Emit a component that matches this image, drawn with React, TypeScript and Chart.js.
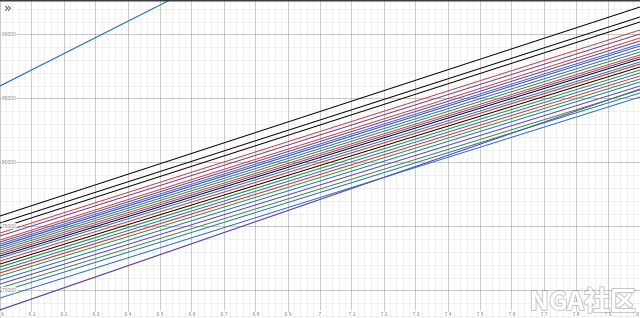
import React, { useEffect, useRef } from 'react';
import { Chart, registerables } from 'chart.js';

Chart.register(...registerables);

// Axis window (Desmos-style view)
const X_MIN = 6;
const X_MAX = 8;
const Y_MIN = 67890;
const Y_MAX = 92734;

// Labelled (major) tick values
const xTickValues = [6, 6.1, 6.2, 6.3, 6.4, 6.5, 6.6, 6.7, 6.8, 6.9, 7, 7.1, 7.2, 7.3, 7.4, 7.5, 7.6, 7.7, 7.8, 7.9, 8];
const yTickValues = [70000, 75000, 80000, 85000, 90000];
// Minor grid steps
const xMinorStep = 0.02;
const yMinorStep = 1000;

// Each line runs from x = 6 to x = 8
const lineStartX = 6;
const lineEndX = 8;

// y value of each line at x = 6
const startValues = [
  86020, 75860, 75310, 74920, 74530, 74300, 73980, 73830, 73670, 73520,
  73360, 73200, 73050, 72890, 72730, 72580, 72340, 72110, 71880, 71640,
  71410, 71170, 70860, 70550, 70230, 69920, 69450, 68520,
];

// y value of each line at x = 8
const endValues = [
  111300, 92190, 91410, 91020, 90390, 90080, 89770, 89530, 89300, 89140,
  88910, 88670, 88440, 88280, 88130, 87890, 87730, 87500, 87270, 87030,
  86800, 86560, 86330, 86020, 85700, 85470, 85160, 85780,
];

// colour name of each line
const lineColorNames = [
  'blue', 'black', 'black', 'black', 'red', 'purple', 'red', 'purple', 'blue', 'purple',
  'blue', 'green', 'red', 'purple', 'black', 'blue', 'red', 'black', 'green', 'blue',
  'red', 'green', 'blue', 'purple', 'green', 'blue', 'blue', 'purple',
];

const palette: Record<string, string> = {
  red: '#c74440',
  blue: '#2d70b3',
  green: '#388c46',
  purple: '#6042a6',
  black: '#000000',
};

const fmtX = (v: number) => String(Number(v.toFixed(1)));

const stepTicks = (min: number, max: number, step: number) => {
  const out: { value: number }[] = [];
  const first = Math.ceil(min / step - 1e-9);
  const last = Math.floor(max / step + 1e-9);
  for (let k = first; k <= last; k++) out.push({ value: Math.round(k * step * 1000) / 1000 });
  return out;
};

const overlayPlugin = {
  id: 'desmosOverlay',
  afterDatasetsDraw(chart: any) {
    const ctx = chart.ctx as CanvasRenderingContext2D;
    const xs = chart.scales.x;
    const ys = chart.scales.y;
    const W = chart.width;
    const H = chart.height;
    ctx.save();
    ctx.font = '5px "Liberation Sans", Arial, sans-serif';
    ctx.textBaseline = 'middle';
    ctx.lineJoin = 'round';
    ctx.lineWidth = 2.5;
    ctx.strokeStyle = 'rgba(255,255,255,0.95)';
    ctx.fillStyle = '#8c8c8c';

    ys.ticks.forEach((t: any) => {
      const py = ys.getPixelForValue(t.value);
      const txt = String(t.value);
      ctx.textAlign = 'left';
      ctx.strokeText(txt, 2, py);
      ctx.fillText(txt, 2, py);
    });

    xs.ticks.forEach((t: any) => {
      const px = xs.getPixelForValue(t.value);
      const txt = fmtX(t.value);
      const w = ctx.measureText(txt).width;
      const cx = Math.min(Math.max(px, 1 + w / 2), W - 1 - w / 2);
      ctx.textAlign = 'center';
      ctx.strokeText(txt, cx, H - 3.5);
      ctx.fillText(txt, cx, H - 3.5);
    });

    // top border
    ctx.fillStyle = '#3c3c3c';
    ctx.fillRect(0, 0, W, 1.5);

    // expand icon
    ctx.font = '13px "DejaVu Sans", sans-serif';
    ctx.fillStyle = '#555555';
    ctx.textAlign = 'left';
    ctx.textBaseline = 'middle';
    ctx.fillText('\u00bb', 4, 9);

    // watermark
    ctx.font = 'bold 26px "Noto Sans CJK SC", "Noto Sans", sans-serif';
    ctx.textAlign = 'right';
    ctx.textBaseline = 'alphabetic';
    ctx.lineWidth = 2;
    ctx.strokeStyle = 'rgba(120,120,120,0.4)';
    ctx.strokeText('NGA社区', W - 4, H - 8);
    ctx.fillStyle = 'rgba(255,255,255,0.97)';
    ctx.fillText('NGA社区', W - 4, H - 8);
    ctx.restore();
  },
};

export default function App() {
  const canvasRef = useRef<HTMLCanvasElement | null>(null);

  useEffect(() => {
    if (!canvasRef.current) return;
    const datasets = startValues.map((s, i) => ({
      label: 'line ' + (i + 1),
      data: [
        { x: lineStartX, y: s },
        { x: lineEndX, y: endValues[i] },
      ],
      showLine: true,
      borderColor: palette[lineColorNames[i]],
      backgroundColor: palette[lineColorNames[i]],
      borderWidth: 1.1,
      pointRadius: 0,
      fill: false,
      xAxisID: 'x',
      yAxisID: 'y',
    }));

    const common = (pos: string, min: number, max: number, color: string, ticksFn: () => { value: number }[]) => ({
      type: 'linear',
      position: pos,
      min,
      max,
      ticks: { display: false },
      grid: { color, lineWidth: 1, drawTicks: false },
      border: { display: false },
      afterBuildTicks: (axis: any) => {
        axis.ticks = ticksFn();
      },
    });

    const chart = new Chart(canvasRef.current, {
      type: 'scatter',
      data: { datasets },
      plugins: [overlayPlugin],
      options: {
        animation: false,
        responsive: false,
        maintainAspectRatio: false,
        devicePixelRatio: 1,
        layout: { padding: 0 },
        plugins: { legend: { display: false }, tooltip: { enabled: false } },
        scales: {
          xMinor: common('bottom', X_MIN, X_MAX, 'rgba(0,0,0,0.055)', () => stepTicks(X_MIN, X_MAX, xMinorStep)),
          yMinor: common('left', Y_MIN, Y_MAX, 'rgba(0,0,0,0.055)', () => stepTicks(Y_MIN, Y_MAX, yMinorStep)),
          x: common('bottom', X_MIN, X_MAX, 'rgba(0,0,0,0.16)', () => xTickValues.map((v) => ({ value: v }))),
          y: common('left', Y_MIN, Y_MAX, 'rgba(0,0,0,0.16)', () => yTickValues.map((v) => ({ value: v }))),
        },
      },
    } as any);
    return () => chart.destroy();
  }, []);

  return (
    <div style={{ position: 'fixed', left: 0, top: 0, width: 640, height: 318, background: '#fff' }}>
      <canvas ref={canvasRef} width={640} height={318} style={{ display: 'block' }} />
    </div>
  );
}
